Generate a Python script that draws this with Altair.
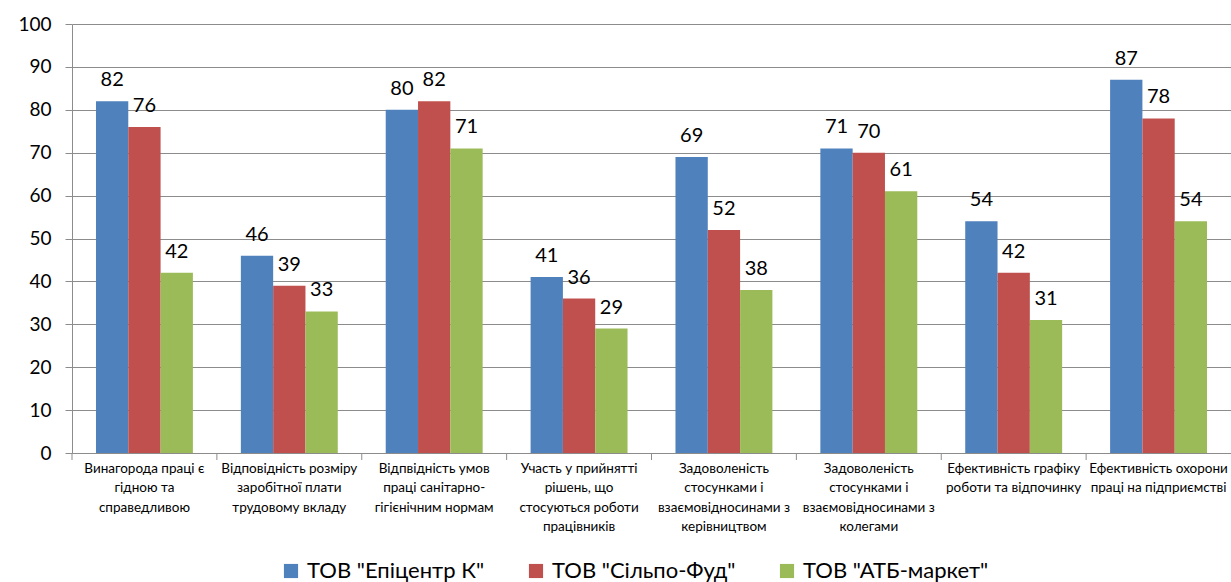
import altair as alt
import pandas as pd

categories = [
    "Винагорода праці є|гідною та|справедливою",
    "Відповідність розміру|заробітної плати|трудовому вкладу",
    "Відпвідність умов|праці  санітарно-|гігієнічним нормам",
    "Участь у прийнятті|рішень, що|стосуються роботи|працівників",
    "Задоволеність|стосунками і|взаємовідносинами з|керівництвом",
    "Задоволеність|стосунками і|взаємовідносинами з|колегами",
    "Ефективність графіку|роботи та відпочинку",
    "Ефективність охорони|праці на підприємстві",
]
series = ['ТОВ "Епіцентр К"', 'ТОВ "Сільпо-Фуд"', 'ТОВ "АТБ-маркет"']
epicentr = [82, 46, 80, 41, 69, 71, 54, 87]
silpo = [76, 39, 82, 36, 52, 70, 42, 78]
atb = [42, 33, 71, 29, 38, 61, 31, 54]
colors = ["#4F81BD", "#C0504D", "#9BBB59"]

rows = []
for s, vals in zip(series, [epicentr, silpo, atb]):
    for c, v in zip(categories, vals):
        rows.append({"cat": c, "series": s, "value": v})
df = pd.DataFrame(rows)
cat_df = pd.DataFrame({"cat": categories})

FONT = "Lato"
GRID = "#8C8C8C"

x_enc = alt.X(
    "cat:N", sort=categories,
    scale=alt.Scale(paddingInner=0, paddingOuter=0),
    axis=alt.Axis(
        title=None, labelAngle=0, labelExpr="split(datum.label, '|')",
        ticks=False, labelPadding=8, labelFontSize=13.5, labelLineHeight=19.5,
        labelFont=FONT, labelColor="#000000", labelOverlap=False, labelLimit=400,
        labelBaseline="top", domainColor=GRID,
    ),
)
xo_enc = alt.XOffset("series:N", sort=series,
                     scale=alt.Scale(paddingOuter=0.742, paddingInner=0))
y_enc = alt.Y(
    "value:Q", scale=alt.Scale(domain=[0, 100]),
    axis=alt.Axis(
        title=None, values=list(range(0, 101, 10)), grid=True, gridColor=GRID,
        domainColor=GRID, tickColor=GRID, tickSize=7, labelPadding=14,
        labelFontSize=19, labelFont=FONT, labelColor="#000000",
    ),
)
color_enc = alt.Color(
    "series:N", sort=series, scale=alt.Scale(domain=series, range=colors),
    legend=alt.Legend(
        title=None, orient="none", legendX=208, legendY=536, direction="horizontal",
        symbolType="square", symbolSize=200, symbolStrokeWidth=0, symbolOpacity=1,
        labelFontSize=22, labelFont=FONT, labelColor="#000000", columnPadding=40,
        labelOffset=5, labelLimit=400,
    ),
)

bars = alt.Chart(df).mark_bar(opacity=1).encode(
    x=x_enc, xOffset=xo_enc, y=y_enc, color=color_enc
)
labels = alt.Chart(df).mark_text(
    baseline="bottom", dy=-11, fontSize=20, font=FONT, color="#000000"
).encode(x=x_enc, xOffset=xo_enc, y=y_enc, text="value:Q")
ticks = alt.Chart(cat_df).mark_rule(color=GRID).encode(
    x=alt.X("cat:N", sort=categories, bandPosition=0),
    y=alt.value(429), y2=alt.value(436),
)

chart = alt.layer(bars, labels, ticks).properties(
    width=1159, height=429,
    autosize=alt.AutoSizeParams(type="none"),
    padding={"left": 72, "top": 24, "right": 0, "bottom": 129},
    background="white",
).configure_view(stroke=None)

chart.save("out.html", embed_options={"renderer": "svg", "actions": False})
